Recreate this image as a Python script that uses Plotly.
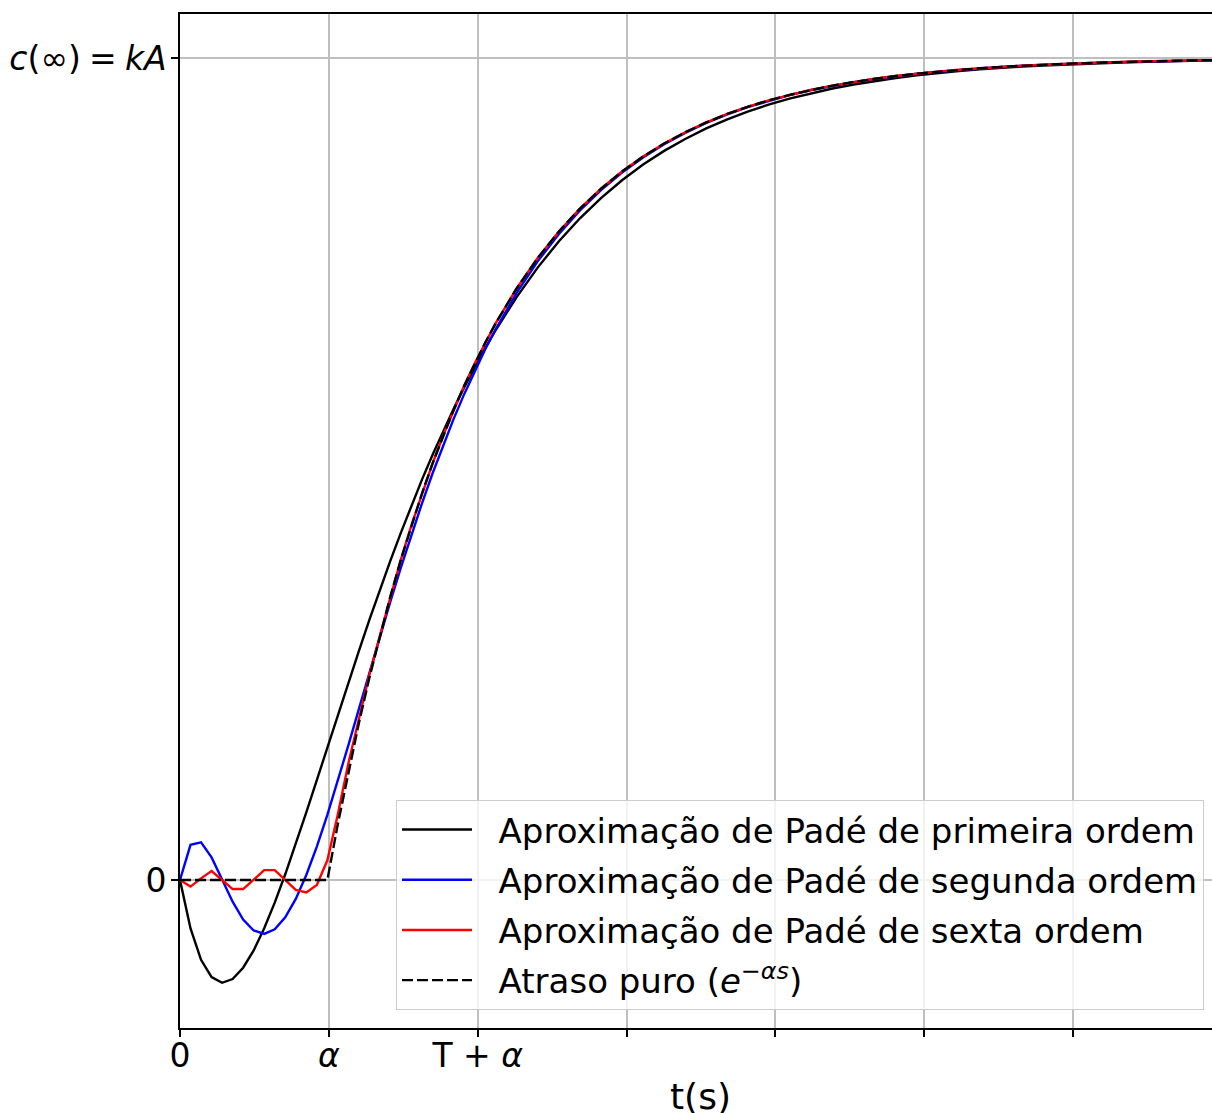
import plotly.graph_objects as go

# sample times (s), alpha = 1, T = 1
t = [0, 0.0707, 0.1414, 0.2121, 0.2828, 0.3535, 0.4242, 0.4949, 0.5657, 0.6364,
     0.7071, 0.7778, 0.8485, 0.9192, 0.9899, 1.0606, 1.1313, 1.2020, 1.2727, 1.3434,
     1.4141, 1.4848, 1.5556, 1.6263, 1.6970, 1.7677, 1.8384, 1.9091, 1.9798, 2.0505,
     2.1212, 2.2626, 2.4040, 2.5455, 2.6869, 2.8283, 2.9697, 3.1111, 3.2525, 3.3939,
     3.5354, 3.6768, 3.8182, 3.9596, 4.1010, 4.2424, 4.3838, 4.5253, 4.6667, 4.8081,
     4.9495, 5.0909, 5.2323, 5.3737, 5.5152, 5.6566, 5.7980, 5.9394, 6.0808, 6.2222,
     6.3636, 6.5051, 6.6465, 6.7879, 6.9293, 7.0000]

pade1 = [0, -0.0589, -0.0971, -0.1181, -0.1250, -0.1204, -0.1067, -0.0856, -0.0587, -0.0275,
         0.0070, 0.0439, 0.0823, 0.1216, 0.1614, 0.2010, 0.2403, 0.2789, 0.3167, 0.3533,
         0.3888, 0.4230, 0.4559, 0.4874, 0.5174, 0.5461, 0.5734, 0.5993, 0.6238, 0.6471,
         0.6691, 0.7094, 0.7453, 0.7770, 0.8050, 0.8296, 0.8513, 0.8703, 0.8870, 0.9015,
         0.9143, 0.9254, 0.9351, 0.9435, 0.9509, 0.9573, 0.9629, 0.9677, 0.9720, 0.9756,
         0.9788, 0.9816, 0.9840, 0.9861, 0.9880, 0.9895, 0.9909, 0.9921, 0.9932, 0.9941,
         0.9948, 0.9955, 0.9961, 0.9966, 0.9971, 0.9973]

pade2 = [0, 0.0428, 0.0458, 0.0275, 0.0006, -0.0263, -0.0480, -0.0614, -0.0655, -0.0599,
         -0.0454, -0.0230, 0.0062, 0.0407, 0.0793, 0.1207, 0.1640, 0.2082, 0.2526, 0.2964,
         0.3393, 0.3807, 0.4206, 0.4586, 0.4948, 0.5289, 0.5610, 0.5911, 0.6194, 0.6457,
         0.6703, 0.7146, 0.7529, 0.7859, 0.8145, 0.8392, 0.8606, 0.8790, 0.8950, 0.9089,
         0.9209, 0.9313, 0.9404, 0.9482, 0.9551, 0.9610, 0.9661, 0.9706, 0.9745, 0.9778,
         0.9808, 0.9833, 0.9855, 0.9874, 0.9891, 0.9905, 0.9918, 0.9929, 0.9938, 0.9946,
         0.9953, 0.9959, 0.9965, 0.9969, 0.9973, 0.9975]

pade6 = [0, -0.008, 0.002, 0.011, 0.000, -0.011, -0.011, 0.000, 0.012, 0.012,
         0.000, -0.012, -0.015, -0.006, 0.024, 0.080, 0.142, 0.198, 0.250, 0.2978,
         0.3457, 0.3904, 0.4320, 0.4708, 0.5069, 0.5406, 0.5719, 0.6012, 0.6284, 0.6538,
         0.6774, 0.7199, 0.7569, 0.7889, 0.8168, 0.8409, 0.8619, 0.8801, 0.8959, 0.9096,
         0.9216, 0.9319, 0.9409, 0.9487, 0.9554, 0.9613, 0.9664, 0.9709, 0.9747, 0.9780,
         0.9809, 0.9834, 0.9856, 0.9875, 0.9892, 0.9906, 0.9918, 0.9929, 0.9938, 0.9947,
         0.9954, 0.9960, 0.9965, 0.9970, 0.9974, 0.9975]

delay = [0, 0, 0, 0, 0, 0, 0, 0, 0, 0,
         0, 0, 0, 0, 0, 0.0683, 0.1319, 0.1911, 0.2464, 0.2978,
         0.3457, 0.3904, 0.4320, 0.4708, 0.5069, 0.5406, 0.5719, 0.6012, 0.6284, 0.6538,
         0.6774, 0.7199, 0.7569, 0.7889, 0.8168, 0.8409, 0.8619, 0.8801, 0.8959, 0.9096,
         0.9216, 0.9319, 0.9409, 0.9487, 0.9554, 0.9613, 0.9664, 0.9709, 0.9747, 0.9780,
         0.9809, 0.9834, 0.9856, 0.9875, 0.9892, 0.9906, 0.9918, 0.9929, 0.9938, 0.9947,
         0.9954, 0.9960, 0.9965, 0.9970, 0.9974, 0.9975]

series_names = [
    "Aproximação de Padé de primeira ordem",
    "Aproximação de Padé de segunda ordem",
    "Aproximação de Padé de sexta ordem",
    "Atraso puro (<i>e</i><sup>−<i>αs</i></sup>)",
]
series_colors = ["black", "blue", "red", "black"]
series_dash = ["solid", "solid", "solid", "11px,4px"]

x_tickvals = [0, 1, 2]
x_ticktext = ["0", "<i>α</i>", "T + <i>α</i>"]
x_unlabeled_ticks = [3, 4, 5, 6]
y_tickvals = [0, 1]
y_ticktext = ["0", "<i>c</i>(∞)\u2005=\u2005<i>kA</i>"]

FONT = "DejaVu Sans"
GAP = "\u00a0\u00a0"
GRID = "#bfbfbf"

fig = go.Figure()
for i, ys in enumerate([pade1, pade2, pade6, delay]):
    fig.add_trace(go.Scatter(
        x=t, y=ys, mode="lines", name=GAP + series_names[i],
        legendgroup=f"g{i}",
        line=dict(color=series_colors[i], width=2.4, dash=series_dash[i]),
    ))

fig.update_layout(
    width=1212, height=1113,
    margin=dict(l=180, r=0, t=14, b=85),
    paper_bgcolor="white", plot_bgcolor="white",
    font=dict(family=FONT, size=33, color="black"),
    showlegend=True,
    legend=dict(
        x=0.2093, y=0.2249, xanchor="left", yanchor="top",
        bgcolor="rgba(255,255,255,0.8)", bordercolor="#cccccc", borderwidth=1,
        font=dict(family=FONT, size=34, color="black"),
        itemwidth=70, tracegroupgap=3, traceorder="grouped",
    ),
    xaxis=dict(
        range=[0, 6.933], tickmode="array", tickvals=x_tickvals, ticktext=x_ticktext,
        showgrid=True, gridcolor=GRID, gridwidth=1.5,
        showline=True, linecolor="black", linewidth=1.6, mirror=True,
        ticks="outside", ticklen=7, tickwidth=1.6, tickcolor="black",
        zeroline=False, tickfont=dict(family=FONT, size=33), ticklabelstandoff=-9,
        minor=dict(tickmode="array", tickvals=x_unlabeled_ticks, ticks="outside",
                   ticklen=7, tickwidth=1.6, tickcolor="black",
                   showgrid=True, gridcolor=GRID, gridwidth=1.5),
    ),
    yaxis=dict(
        range=[-0.1800, 1.0535], tickmode="array", tickvals=y_tickvals, ticktext=y_ticktext,
        showgrid=True, gridcolor=GRID, gridwidth=1.5,
        showline=True, linecolor="black", linewidth=1.6,
        ticks="outside", ticklen=7, tickwidth=1.6, tickcolor="black",
        zeroline=False, tickfont=dict(family=FONT, size=33), ticklabelstandoff=-2,
    ),
    annotations=[dict(
        text="t(s)", x=3.4935, xref="x", y=-0.068, yref="paper",
        xanchor="center", yanchor="middle", showarrow=False,
        font=dict(family=FONT, size=36, color="black"),
    )],
)

fig.write_html("out.html", config={"displayModeBar": False},
               post_script="document.body.style.margin='0px';")
